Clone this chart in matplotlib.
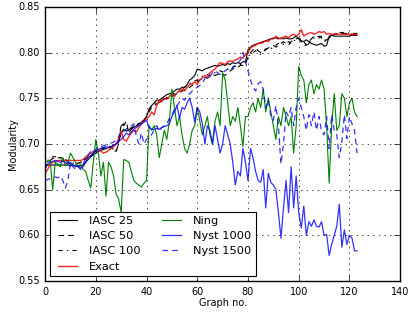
import numpy as np
import matplotlib
matplotlib.use("Agg")
import matplotlib.pyplot as plt

graph_no = np.arange(124)

exact = [
    0.668, 0.672, 0.678, 0.680, 0.681, 0.682, 0.682, 0.682, 0.682, 0.682,
    0.682, 0.682, 0.682, 0.682, 0.682, 0.683, 0.686, 0.688, 0.690, 0.692,
    0.693, 0.694, 0.692, 0.690, 0.691, 0.693, 0.695, 0.697, 0.700, 0.706,
    0.714, 0.705, 0.703, 0.708, 0.712, 0.715, 0.713, 0.718, 0.722, 0.725,
    0.728, 0.730, 0.735, 0.732, 0.742, 0.748, 0.746, 0.750, 0.749, 0.752,
    0.755, 0.752, 0.756, 0.758, 0.760, 0.758, 0.762, 0.765, 0.766, 0.768,
    0.765, 0.770, 0.772, 0.775, 0.774, 0.778, 0.780, 0.782, 0.786, 0.789,
    0.788, 0.787, 0.790, 0.791, 0.790, 0.792, 0.793, 0.795, 0.794, 0.798,
    0.800, 0.805, 0.807, 0.808, 0.810, 0.810, 0.811, 0.813, 0.812, 0.815,
    0.815, 0.818, 0.816, 0.815, 0.817, 0.818, 0.816, 0.819, 0.820, 0.818,
    0.820, 0.825, 0.818, 0.820, 0.821, 0.822, 0.820, 0.821, 0.823, 0.822,
    0.823, 0.820, 0.821, 0.820, 0.820, 0.821, 0.820, 0.820, 0.820, 0.820,
    0.820, 0.820, 0.820, 0.820,
]

iasc25 = [
    0.675, 0.677, 0.677, 0.677, 0.677, 0.677, 0.677, 0.677, 0.677, 0.677,
    0.676, 0.677, 0.676, 0.676, 0.676, 0.677, 0.680, 0.683, 0.686, 0.688,
    0.690, 0.692, 0.693, 0.694, 0.695, 0.696, 0.697, 0.698, 0.700, 0.702,
    0.712, 0.716, 0.714, 0.715, 0.718, 0.718, 0.720, 0.722, 0.724, 0.726,
    0.730, 0.738, 0.742, 0.745, 0.748, 0.748, 0.750, 0.752, 0.754, 0.755,
    0.756, 0.758, 0.760, 0.760, 0.762, 0.762, 0.765, 0.770, 0.772, 0.775,
    0.782, 0.781, 0.780, 0.782, 0.783, 0.784, 0.785, 0.786, 0.785, 0.786,
    0.787, 0.786, 0.788, 0.787, 0.789, 0.788, 0.789, 0.788, 0.790, 0.790,
    0.803, 0.806, 0.808, 0.809, 0.810, 0.811, 0.812, 0.813, 0.814, 0.815,
    0.816, 0.816, 0.815, 0.816, 0.815, 0.816, 0.815, 0.815, 0.816, 0.818,
    0.815, 0.813, 0.812, 0.814, 0.812, 0.810, 0.809, 0.808, 0.809, 0.810,
    0.807, 0.808, 0.818, 0.819, 0.818, 0.818, 0.818, 0.818, 0.818, 0.818,
    0.818, 0.819, 0.819, 0.819,
]

iasc50 = [
    0.672, 0.680, 0.682, 0.684, 0.685, 0.685, 0.685, 0.684, 0.682, 0.680,
    0.678, 0.677, 0.678, 0.679, 0.680, 0.682, 0.684, 0.686, 0.688, 0.690,
    0.692, 0.694, 0.695, 0.696, 0.697, 0.698, 0.696, 0.694, 0.692, 0.700,
    0.722, 0.720, 0.725, 0.712, 0.716, 0.718, 0.719, 0.722, 0.722, 0.725,
    0.730, 0.735, 0.740, 0.742, 0.744, 0.746, 0.748, 0.749, 0.750, 0.752,
    0.752, 0.754, 0.755, 0.756, 0.758, 0.759, 0.760, 0.762, 0.764, 0.766,
    0.768, 0.770, 0.772, 0.773, 0.772, 0.774, 0.776, 0.775, 0.776, 0.778,
    0.776, 0.775, 0.778, 0.780, 0.782, 0.783, 0.784, 0.786, 0.786, 0.788,
    0.795, 0.800, 0.803, 0.805, 0.802, 0.800, 0.802, 0.804, 0.805, 0.806,
    0.808, 0.806, 0.808, 0.810, 0.812, 0.810, 0.808, 0.812, 0.814, 0.815,
    0.816, 0.814, 0.812, 0.808, 0.812, 0.815, 0.818, 0.817, 0.818, 0.816,
    0.812, 0.814, 0.816, 0.818, 0.820, 0.820, 0.821, 0.821, 0.821, 0.821,
    0.820, 0.820, 0.820, 0.820,
]

iasc100 = [
    0.673, 0.682, 0.684, 0.686, 0.686, 0.686, 0.685, 0.684, 0.683, 0.681,
    0.680, 0.679, 0.680, 0.679, 0.680, 0.681, 0.683, 0.685, 0.687, 0.689,
    0.691, 0.693, 0.694, 0.695, 0.696, 0.695, 0.694, 0.693, 0.692, 0.701,
    0.720, 0.722, 0.718, 0.715, 0.717, 0.720, 0.721, 0.723, 0.724, 0.726,
    0.732, 0.738, 0.742, 0.744, 0.746, 0.745, 0.748, 0.750, 0.751, 0.753,
    0.754, 0.756, 0.757, 0.758, 0.760, 0.762, 0.764, 0.766, 0.768, 0.769,
    0.770, 0.772, 0.774, 0.775, 0.776, 0.775, 0.777, 0.778, 0.779, 0.780,
    0.779, 0.780, 0.782, 0.783, 0.784, 0.785, 0.786, 0.787, 0.787, 0.789,
    0.796, 0.798, 0.800, 0.802, 0.800, 0.798, 0.801, 0.803, 0.805, 0.804,
    0.806, 0.808, 0.810, 0.811, 0.809, 0.810, 0.812, 0.810, 0.813, 0.814,
    0.815, 0.812, 0.810, 0.806, 0.810, 0.814, 0.816, 0.815, 0.816, 0.818,
    0.815, 0.812, 0.816, 0.819, 0.820, 0.821, 0.822, 0.822, 0.822, 0.822,
    0.821, 0.821, 0.821, 0.821,
]

ning = [
    0.682, 0.680, 0.682, 0.650, 0.680, 0.678, 0.675, 0.685, 0.676, 0.680,
    0.690, 0.685, 0.680, 0.675, 0.678, 0.672, 0.670, 0.660, 0.652, 0.680,
    0.705, 0.690, 0.665, 0.680, 0.643, 0.680, 0.675, 0.665, 0.645, 0.640,
    0.625, 0.683, 0.682, 0.680, 0.670, 0.660, 0.657, 0.655, 0.653, 0.657,
    0.660, 0.720, 0.715, 0.720, 0.710, 0.685, 0.700, 0.715, 0.705, 0.725,
    0.760, 0.740, 0.720, 0.730, 0.710, 0.695, 0.690, 0.700, 0.715, 0.720,
    0.740, 0.725, 0.710, 0.720, 0.730, 0.710, 0.700, 0.725, 0.735, 0.720,
    0.778, 0.770, 0.745, 0.720, 0.730, 0.725, 0.740, 0.720, 0.697, 0.730,
    0.730, 0.740, 0.745, 0.735, 0.750, 0.740, 0.760, 0.735, 0.750, 0.735,
    0.720, 0.705, 0.730, 0.720, 0.740, 0.730, 0.720, 0.730, 0.690, 0.720,
    0.785, 0.775, 0.770, 0.745, 0.765, 0.770, 0.755, 0.765, 0.760, 0.770,
    0.760, 0.720, 0.657, 0.720, 0.755, 0.715, 0.720, 0.755, 0.750, 0.730,
    0.745, 0.750, 0.735, 0.730,
]

nyst1000 = [
    0.675, 0.678, 0.680, 0.681, 0.682, 0.681, 0.680, 0.681, 0.680, 0.678,
    0.680, 0.677, 0.675, 0.676, 0.674, 0.675, 0.680, 0.686, 0.687, 0.690,
    0.692, 0.694, 0.695, 0.696, 0.697, 0.696, 0.697, 0.699, 0.700, 0.703,
    0.705, 0.708, 0.712, 0.710, 0.713, 0.716, 0.718, 0.720, 0.722, 0.724,
    0.726, 0.718, 0.716, 0.716, 0.717, 0.716, 0.718, 0.719, 0.720, 0.722,
    0.730, 0.735, 0.742, 0.728, 0.740, 0.738, 0.745, 0.750, 0.740, 0.724,
    0.740, 0.735, 0.722, 0.700, 0.720, 0.715, 0.700, 0.720, 0.705, 0.690,
    0.700, 0.720, 0.710, 0.700, 0.680, 0.655, 0.670, 0.665, 0.695, 0.680,
    0.660, 0.695, 0.685, 0.670, 0.660, 0.658, 0.672, 0.630, 0.668, 0.658,
    0.655, 0.650, 0.625, 0.597, 0.630, 0.660, 0.625, 0.675, 0.630, 0.665,
    0.625, 0.608, 0.632, 0.600, 0.615, 0.610, 0.617, 0.610, 0.609, 0.615,
    0.600, 0.601, 0.578, 0.590, 0.600, 0.610, 0.634, 0.587, 0.606, 0.590,
    0.600, 0.597, 0.583, 0.583,
]

nyst1500 = [
    0.660, 0.661, 0.662, 0.663, 0.664, 0.663, 0.665, 0.660, 0.652, 0.660,
    0.680, 0.675, 0.672, 0.675, 0.672, 0.678, 0.684, 0.688, 0.692, 0.690,
    0.694, 0.696, 0.697, 0.698, 0.699, 0.700, 0.701, 0.702, 0.704, 0.708,
    0.715, 0.714, 0.716, 0.718, 0.720, 0.722, 0.708, 0.700, 0.712, 0.700,
    0.705, 0.708, 0.710, 0.716, 0.720, 0.714, 0.718, 0.720, 0.722, 0.728,
    0.732, 0.738, 0.742, 0.746, 0.750, 0.748, 0.752, 0.755, 0.758, 0.760,
    0.762, 0.764, 0.766, 0.772, 0.775, 0.774, 0.778, 0.780, 0.778, 0.776,
    0.778, 0.780, 0.782, 0.780, 0.784, 0.786, 0.788, 0.792, 0.800, 0.790,
    0.780, 0.770, 0.762, 0.758, 0.766, 0.768, 0.760, 0.740, 0.748, 0.730,
    0.726, 0.742, 0.720, 0.678, 0.700, 0.735, 0.730, 0.740, 0.720, 0.740,
    0.750, 0.740, 0.730, 0.715, 0.732, 0.720, 0.735, 0.715, 0.730, 0.714,
    0.710, 0.730, 0.695, 0.732, 0.715, 0.710, 0.685, 0.702, 0.732, 0.706,
    0.730, 0.722, 0.715, 0.690,
]

plt.style.use('classic')
plt.rcParams['font.family'] = 'DejaVu Sans'

fig = plt.figure(figsize=(4.10, 3.14), dpi=100, facecolor='white')
ax = fig.add_axes([0.110, 0.105, 0.866, 0.873])

ax.plot(graph_no, iasc25, color='k', ls='-', lw=0.8, label='IASC 25')
ax.plot(graph_no, iasc50, color='k', ls='--', dashes=(4, 3), lw=0.8, label='IASC 50')
ax.plot(graph_no, iasc100, color='k', ls='-.', dashes=(3, 3, 1, 3), lw=0.8, label='IASC 100')
ax.plot(graph_no, exact, color='r', ls='-', lw=1.0, alpha=0.85, label='Exact')
ax.plot(graph_no, ning, color='g', ls='-', lw=0.8, label='Ning')
ax.plot(graph_no, nyst1000, color='b', ls='-', lw=0.9, alpha=0.8, label='Nyst 1000')
ax.plot(graph_no, nyst1500, color='b', ls='--', dashes=(4, 3), lw=0.9, alpha=0.8, label='Nyst 1500')

ax.set_xlim(0, 140)
ax.set_ylim(0.55, 0.85)
ax.set_xticks(range(0, 141, 20))
ax.set_yticks(np.arange(0.55, 0.851, 0.05))
ax.tick_params(labelsize=7)
ax.grid(True, color='k', ls=':', lw=0.5)
ax.set_xlabel('Graph no.', fontsize=7, labelpad=1)
ax.set_ylabel('Modularity', fontsize=7, labelpad=0)

leg = ax.legend(loc='lower left', ncol=2, fontsize=8.2, fancybox=False,
                bbox_to_anchor=(0.015, 0.018), borderaxespad=0,
                handlelength=2.2, columnspacing=1.6, labelspacing=0.45,
                borderpad=0.4)
leg.get_frame().set_linewidth(0.8)

fig.savefig('out.png', dpi=100, facecolor='white')
